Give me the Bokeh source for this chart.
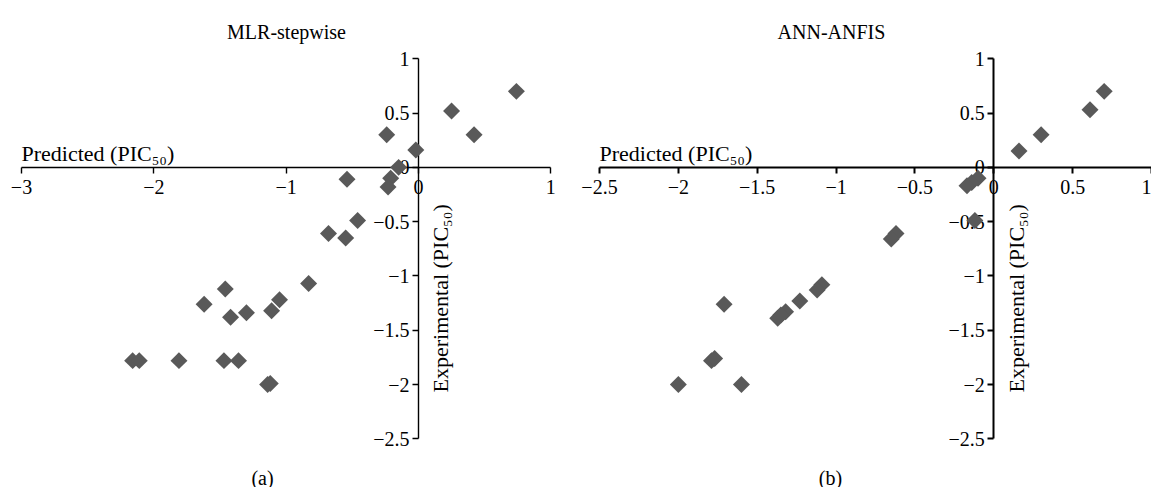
import numpy as np
from bokeh.plotting import figure
from bokeh.layouts import row
from bokeh.models import Range1d, FixedTicker, Label, CustomJSTickFormatter
from bokeh.embed import file_html
from bokeh.resources import INLINE

# ---------------- data ----------------
titles = ["MLR-stepwise", "ANN-ANFIS"]
panel_tags = ["(a)", "(b)"]
x_label = "Predicted (PIC\u2085\u2080)"
y_label = "Experimental (PIC\u2085\u2080)"

mlr_pred = [0.74, 0.25, 0.42, -0.24, -0.02, -0.15, -0.54, -0.21, -0.23, -0.46,
            -0.68, -0.55, -0.83, -1.46, -1.62, -1.05, -1.11, -1.42, -1.30,
            -2.16, -2.11, -1.81, -1.47, -1.36, -1.14, -1.12]
mlr_exp = [0.70, 0.52, 0.30, 0.30, 0.16, 0.00, -0.11, -0.10, -0.18, -0.49,
           -0.61, -0.65, -1.07, -1.12, -1.26, -1.22, -1.32, -1.38, -1.34,
           -1.78, -1.78, -1.78, -1.78, -1.78, -2.00, -1.99]

ann_pred = [0.70, 0.61, 0.30, 0.16, -0.10, -0.14, -0.17, -0.12, -0.62, -0.65,
            -1.09, -1.12, -1.23, -1.32, -1.35, -1.37, -1.71, -1.79, -1.77,
            -2.00, -1.60]
ann_exp = [0.70, 0.53, 0.30, 0.15, -0.10, -0.14, -0.17, -0.49, -0.61, -0.66,
           -1.08, -1.13, -1.23, -1.33, -1.36, -1.39, -1.26, -1.78, -1.76,
           -2.00, -2.00]

mlr_xticks = [-3, -2, -1, 0, 1]
ann_xticks = [-2.5, -2, -1.5, -1, -0.5, 0, 0.5, 1]
yticks = [1, 0.5, 0, -0.5, -1, -1.5, -2, -2.5]

FONT = "Liberation Serif"
MARK = "#595959"
H = 487
PAGE = 0  # Bokeh's page template has no body margin


def lin(p0, v0, p1, v1):
    s = (v1 - v0) / (p1 - p0)
    return lambda px: v0 + (px - p0) * s


def panel(pred, exp, xticks, title, tag, left_px, right_px, xpix, title_cx,
          tag_cx, lw):
    fx = lin(xpix[0] - left_px, xticks[0], xpix[1] - left_px, xticks[-1])
    fy = lin(58.3, yticks[0], 438.3, yticks[-1])
    w = int(right_px - left_px)
    p = figure(width=w, height=H,
               x_range=Range1d(fx(0), fx(w)),
               y_range=Range1d(fy(PAGE + H), fy(PAGE)),
               output_backend="svg", toolbar_location=None, min_border=0)
    p.grid.visible = False
    p.outline_line_color = None
    p.background_fill_color = "white"
    p.border_fill_color = "white"

    fmt = CustomJSTickFormatter(code="return tick.toString().replace('-', '\u2212');")
    for ax in (p.xaxis[0], p.yaxis[0]):
        ax.fixed_location = 0
        ax.level = "underlay"
        ax.axis_line_color = "black"
        ax.axis_line_width = lw
        ax.major_tick_line_color = "black"
        ax.major_tick_line_width = lw
        ax.major_tick_out = 6
        ax.major_tick_in = 0
        ax.minor_tick_line_color = None
        ax.major_label_text_font = FONT
        ax.major_label_text_font_size = "20px"
        ax.major_label_text_color = "black"
        ax.formatter = fmt
    p.xaxis[0].major_label_standoff = 7
    p.yaxis[0].major_label_standoff = 3
    p.xaxis[0].ticker = FixedTicker(ticks=xticks)
    p.xaxis[0].bounds = (xticks[0], xticks[-1])
    p.yaxis[0].ticker = FixedTicker(ticks=yticks)
    p.yaxis[0].bounds = (yticks[-1], yticks[0])

    p.scatter(pred, exp, marker="square", angle=np.pi / 4, size=12,
              fill_color=MARK, line_color=None)

    common = dict(text_font=FONT, text_font_size="20px", text_color="black")
    lab = dict(text_font=FONT, text_font_size="22px", text_color="black")
    p.add_layout(Label(x=fx(title_cx - left_px), y=fy(31), text=title,
                       text_align="center", text_baseline="alphabetic", **common))
    p.add_layout(Label(x=fx(tag_cx - left_px), y=fy(477), text=tag,
                       text_align="center", text_baseline="alphabetic", **common))
    p.add_layout(Label(x=xticks[0], y=0, y_offset=13.4, text=x_label,
                       text_align="left", text_baseline="alphabetic", **lab))
    p.add_layout(Label(x=0, y=fy(392), x_offset=22.5, angle=np.pi / 2,
                       text=y_label, text_align="left",
                       text_baseline="alphabetic", **lab))
    return p


pa = panel(mlr_pred, mlr_exp, mlr_xticks, titles[0], panel_tags[0],
           0, 570, (21, 550.3), 286, 262, 1.4)
pb = panel(ann_pred, ann_exp, ann_xticks, titles[1], panel_tags[1],
           570, 1151, (599, 1151), 831, 830, 2)

layout = row(pa, pb)
open("out.html", "w").write(file_html(layout, INLINE))
